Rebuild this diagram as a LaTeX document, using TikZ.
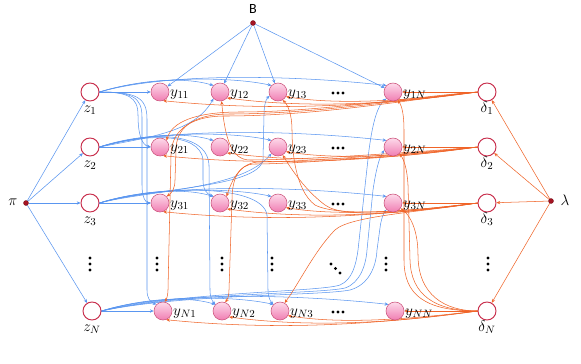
\RequirePackage{fix-cm}
\documentclass[tikz,border=0pt]{standalone}
\usepackage{fontspec}
\newfontfamily\carlito{Carlito}
\usetikzlibrary{arrows.meta}
\definecolor{bE}{RGB}{90,150,240}
\definecolor{oE}{RGB}{240,100,40}
\definecolor{zR}{RGB}{200,45,75}
\definecolor{yTop}{RGB}{253,218,234}
\definecolor{yBot}{RGB}{240,125,178}
\definecolor{yBd}{RGB}{205,85,125}
\definecolor{dR}{RGB}{165,20,35}
\pgfdeclarelayer{bg}
\pgfsetlayers{bg,main}
\tikzset{
  be/.style={draw=bE, line width=0.45pt, -{Stealth[length=3.2pt,width=2.8pt]}},
  oe/.style={draw=oE, line width=0.45pt, -{Stealth[length=3.2pt,width=2.8pt]}},
  zn/.style={circle, draw=zR, line width=0.8pt, fill=white, minimum size=0.54cm, inner sep=0pt},
  yn/.style={circle, draw=yBd, line width=0.5pt, top color=yTop, bottom color=yBot, minimum size=0.54cm, inner sep=0pt},
  rd/.style={circle, fill=dR, draw=dR!70!black, line width=0.3pt, minimum size=0.15cm, inner sep=0pt},
  ml/.style={inner sep=0pt, font=\fontsize{13}{15}\selectfont},
}
\def\lastc{N}
\begin{document}
\begin{tikzpicture}[x=0.03cm,y=-0.03cm]
\useasboundingbox (0,0) rectangle (581,364);
% nodes
\node[rd] (B) at (253,23) {};
\node[inner sep=0pt, font=\carlito\fontsize{12}{14}\selectfont] (Blab) at (253,9) {B};
\node[rd] (pi) at (26,203) {};
\node[ml] (pilab) at (13,202) {$\pi$};
\node[rd] (lam) at (551,201) {};
\node[ml] (lamlab) at (565,200) {$\lambda$};
\foreach \n/\r in {1/92,2/147,3/203} {
  \node[zn] (z\n) at (90,\r) {};
  \node[ml,anchor=base] (zl\n) at (90,\r+20) {$z_{\n}$};
}
\node[zn] (zN) at (92,311) {};
\node[ml,anchor=base] (zlN) at (92,331) {$z_N$};
\foreach \i/\r in {1/92,2/147,3/203} {
  \foreach \j/\c in {1/160,2/220,3/278,N/393} {
    \node[yn] (y\i\j) at (\c,\r) {};
    \node[ml,anchor=base west] (yl\i\j) at (\c+10,\r+4) {$y_{\i\j}$};
  }
}
\foreach \j/\c in {1/163,2/222,3/280,N/395} {
  \node[yn] (yN\j) at (\c,311) {};
  \node[ml,anchor=base west] (ylN\j) at (\c+10,315) {$y_{N\j}$};
}
\foreach \n/\r in {1/92,2/147,3/203,N/311} {
  \node[zn] (d\n) at (487,\r) {};
  \node[ml,anchor=base] (dl\n) at (487,\r+20) {$\delta_{\n}$};
}
% ellipsis dots
\foreach \r in {93,148,204,312} \foreach \dx in {-5,0,5} \fill (338+\dx,\r) circle (1.4pt);
\foreach \x in {90,157,222,272,386,488} \foreach \dy in {258,264,270} \fill (\x,\dy) circle (1.4pt);
\foreach \p in {0,1,2} \fill (331+4.5*\p,264+4.5*\p) circle (1.4pt);
% edges
\begin{pgfonlayer}{bg}
\fill[white] (0,0) rectangle (581,364);
\foreach \n in {1,2,3,N} \draw[be] (pi) -- (z\n);
\foreach \j in {1,2,3,N} \draw[be] (B) -- (y1\j);
\foreach \n in {1,2,3,N} \draw[oe] (lam) -- (d\n);
% z rows
\foreach \i in {1,2,3,N} {
  \draw[be] (z\i) -- (y\i1);
  \draw[be] (z\i.east) .. controls +(40,-12) and +(-30,-9) .. (y\i2.north west);
  \draw[be] (z\i.east) .. controls +(50,-16) and +(-40,-9) .. (y\i3.north west);
  \draw[be] (z\i.east) .. controls +(70,-20) and +(-90,-10) .. (y\i\lastc.north west);
}
% z columns
\draw[be] (z1.east) .. controls (128,92) and (138,97) .. (138,115) .. controls (138,135) and (142,145) .. (y21.west);
\draw[be] (z1.east) .. controls (132,92) and (142,97) .. (142,117) -- (142,185) .. controls (142,198) and (146,203) .. (y31.west);
\draw[be] (z1.east) .. controls (136,92) and (147,97) .. (147,119) -- (147,290) .. controls (147,298) and (150,302) .. (yN1.north west);
\draw[be] (z2.east) .. controls (150,137) and (195,132) .. (y12.south west);
\draw[be] (z2.east) .. controls (140,135) and (200,130) .. (203,160) -- (203,180) .. controls (203,190) and (207,194) .. (y32.north west);
\draw[be] (z2.east) .. controls (140,133) and (207,128) .. (209,165) -- (210,290) .. controls (210,298) and (213,302) .. (yN2.north west);
\draw[be] (z3.east) .. controls (150,190) and (240,190) .. (y23.south west);
\draw[be] (z3.east) .. controls (150,188) and (258,188) .. (263,160) -- (264,115) .. controls (264,105) and (266,99) .. (y13.205);
\draw[be] (z3.east) .. controls (150,186) and (262,182) .. (267,215) -- (268,290) .. controls (268,298) and (271,302) .. (yN3.north west);
\draw[be] (zN.east) .. controls (180,292) and (320,292) .. (340,285) .. controls (352,280) and (356,265) .. (358,250) -- (369,150) .. controls (373,120) and (378,105) .. (y1N.south west);
\draw[be] (zN.east) .. controls (180,293) and (320,294) .. (345,288) .. controls (360,283) and (366,265) .. (367,250) -- (373,190) .. controls (376,170) and (379,158) .. (y2N.200);
\draw[be] (zN.east) .. controls (180,294) and (320,296) .. (350,290) .. controls (368,285) and (376,268) .. (377,250) -- (380,228) .. controls (381,220) and (383,214) .. (y3N.south west);
% delta rows
\foreach \i in {1,2,3,N} {
  \draw[oe] (d\i) -- (y\i\lastc);
  \draw[oe] (d\i.west) .. controls +(-50,6) and +(60,10) .. (y\i3.-30);
  \draw[oe] (d\i.west) .. controls +(-70,10) and +(90,12) .. (y\i2.-40);
  \draw[oe] (d\i.west) .. controls +(-90,12) and +(120,12) .. (y\i1.-70);
}
% delta columns
\draw[oe] (d1.west) .. controls (420,96) and (320,112) .. (240,112) .. controls (195,112) and (172,122) .. (y21.north east);
\draw[oe] (d1.west) .. controls (420,97) and (320,114) .. (230,114) .. controls (190,114) and (176,130) .. (176,150) -- (175,180) .. controls (175,188) and (172,193) .. (y31.north east);
\draw[oe] (d1.west) .. controls (420,98) and (320,116) .. (225,116) .. controls (185,116) and (171,135) .. (171,155) -- (168,290) .. controls (168,296) and (166,300) .. (yN1.80);
\draw[oe] (d2.west) .. controls (420,152) and (300,160) .. (250,160) .. controls (232,160) and (225,140) .. (y12.-80);
\draw[oe] (d2.west) .. controls (420,153) and (300,162) .. (260,162) .. controls (240,162) and (232,180) .. (y32.north east);
\draw[oe] (d2.west) .. controls (420,154) and (300,164) .. (255,164) .. controls (238,164) and (232,180) .. (232,200) -- (229,290) .. controls (229,297) and (227,300) .. (yN2.70);
\draw[oe] (d3.west) .. controls (420,210) and (340,218) .. (315,205) .. controls (295,190) and (292,150) .. (292,130) .. controls (292,115) and (288,105) .. (y13.-60);
\draw[oe] (d3.west) .. controls (420,211) and (345,220) .. (325,205) .. controls (305,190) and (292,170) .. (y23.-60);
\draw[oe] (d3.west) .. controls (420,212) and (350,216) .. (335,230) .. controls (315,250) and (298,285) .. (yN3.60);
\draw[oe] (dN.west) .. controls (425,311) and (404,295) .. (404,260) -- (404,130) .. controls (404,115) and (402,106) .. (y1N.-60);
\draw[oe] (dN.west) .. controls (435,311) and (411,295) .. (410,260) -- (408,185) .. controls (407,168) and (404,160) .. (y2N.-45);
\draw[oe] (dN.west) .. controls (445,311) and (418,295) .. (418,255) .. controls (418,230) and (410,215) .. (y3N.-35);
\end{pgfonlayer}
\end{tikzpicture}
\end{document}
